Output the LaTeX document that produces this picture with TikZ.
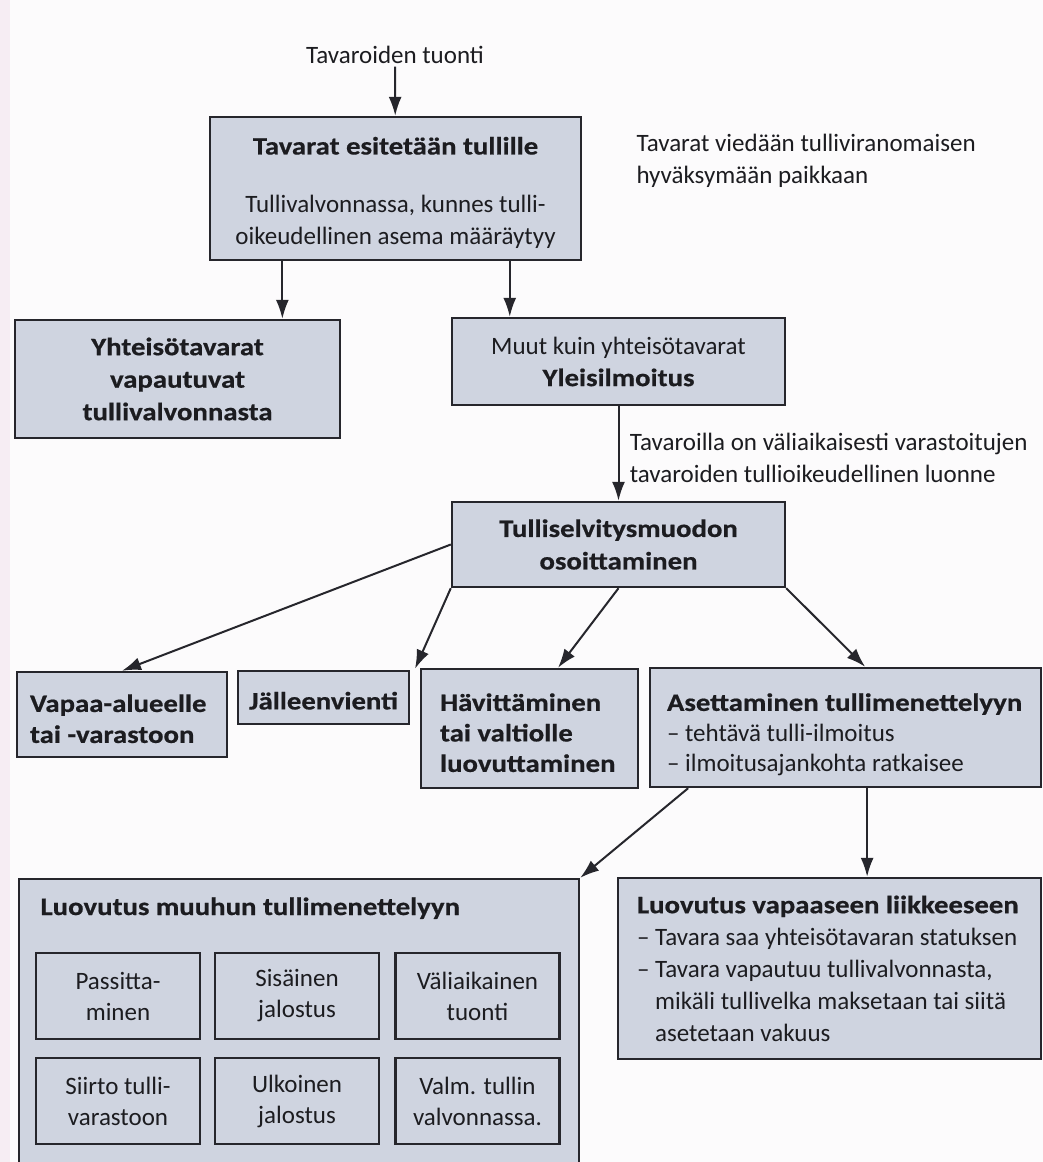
\documentclass[tikz,border=0pt]{standalone}
\usepackage{fontspec}
\setmainfont{Carlito}[BoldFeatures={FakeStretch=1.15,FakeBold=0.6}]
\usepackage{tikz}
\usetikzlibrary{arrows.meta,calc}
\definecolor{reuna}{RGB}{38,38,44}
\definecolor{tausta}{RGB}{207,212,224}
\definecolor{teksti}{RGB}{28,28,32}
\definecolor{paperi}{RGB}{252,251,252}
\definecolor{reunus}{RGB}{246,237,243}
\newcommand{\tb}[1]{\textbf{#1}}
\tikzset{
	laatikko/.style={draw=reuna, fill=tausta, line width=2.4pt, inner sep=0pt},
	vasen/.style={align=flush left, inner xsep=0pt, text width=#1},
	nuoli/.style={->, line width=2pt, draw=reuna},
}

\begin{document}
\begin{tikzpicture}[x=1pt, y=-1pt, >={Latex[length=19pt,width=13pt]}, font=\fontsize{25}{32}\selectfont, text=teksti]
	\useasboundingbox (0,0) rectangle (1043,1162);
	\clip (0,0) rectangle (1043,1162);
	\fill[paperi] (0,0) rectangle (1043,1162);
	\fill[reunus] (0,0) rectangle (10,1162);

	\node[anchor=base] (tuonti) at (395,63) {Tavaroiden tuonti};
	\node[laatikko, minimum width=371, minimum height=143, align=center] (esit) at (395.5,188.5) {\rule{0pt}{26pt}\tb{Tavarat esitetään tullille}\\[26pt]Tullivalvonnassa, kunnes tulli-\\oikeudellinen asema määräytyy};
	\node[anchor=base west, align=left] (paikka) at (633,183) {Tavarat viedään tulliviranomaisen\\hyväksymään paikkaan};
	\node[laatikko, minimum width=325, minimum height=118, align=center, font=\fontsize{25}{32.5}\selectfont\bfseries] (yht) at (177.5,379) {Yhteisötavarat\\vapautuvat\\tullivalvonnasta};
	\node[laatikko, minimum width=333, minimum height=87, align=center] (muut) at (618.5,361.5) {Muut kuin yhteisötavarat\\\tb{Yleisilmoitus}};
	\node[laatikko, minimum width=333, minimum height=85, align=center, font=\fontsize{25}{32.5}\selectfont\bfseries] (tulli) at (618.5,544.5) {Tulliselvitysmuodon\\osoittaminen};

	\node[laatikko, vasen=210, minimum height=85, font=\fontsize{25}{31}\selectfont\bfseries] (vapaa) at (122,714.5) {\leftskip=13pt\rule{0pt}{26pt}Vapaa-alueelle\\tai -varastoon\par};
	\node[laatikko, minimum width=171, minimum height=53, align=center, font=\fontsize{25}{31}\selectfont\bfseries] (jall) at (323.5,697.5) {\rule{0pt}{24pt}Jälleenvienti};
	\node[laatikko, vasen=217, minimum height=119, font=\fontsize{25}{30.5}\selectfont\bfseries] (havi) at (529.5,728.5) {\leftskip=19pt\rule{0pt}{26pt}Hävittäminen\\tai valtiolle\\luovuttaminen\par};
	\node[laatikko, vasen=391, minimum height=119, font=\fontsize{25}{30.5}\selectfont] (aset) at (845.5,727.5) {\leftskip=17pt\rule{0pt}{32pt}\tb{Asettaminen tullimenettelyyn}\\– tehtävä tulli-ilmoitus\\– ilmoitusajankohta ratkaisee\par};

	\node[laatikko, minimum width=560, minimum height=302] (luomuu) at (299,1030) {};
	\node[anchor=base west, font=\fontsize{25}{32}\selectfont\bfseries] (luomuut) at (37,915) {Luovutus muuhun tullimenettelyyn};
	\node[laatikko, minimum width=164, minimum height=86, align=center, font=\fontsize{25}{31}\selectfont] (pass) at (118,996) {Passitta-\\minen};
	\node[laatikko, minimum width=164, minimum height=86, align=center, font=\fontsize{25}{31}\selectfont] (sisa) at (297,996) {Sisäinen\\jalostus};
	\node[laatikko, minimum width=164, minimum height=86, align=center, font=\fontsize{25}{31}\selectfont] (valiai) at (477.5,996) {Väliaikainen\\tuonti};
	\node[laatikko, minimum width=164, minimum height=86, align=center, font=\fontsize{25}{31}\selectfont] (siirto) at (118,1101) {Siirto tulli-\\varastoon};
	\node[laatikko, minimum width=164, minimum height=86, align=center, font=\fontsize{25}{31}\selectfont] (ulko) at (297,1101) {Ulkoinen\\jalostus};
	\node[laatikko, minimum width=164, minimum height=86, align=center, font=\fontsize{25}{31}\selectfont] (valm) at (477.5,1101) {Valm. tullin\\valvonnassa.};

	\node[laatikko, vasen=423, minimum height=181, font=\fontsize{25}{32}\selectfont] (luovap) at (829.5,968.5) {\leftskip=19pt\tb{Luovutus vapaaseen liikkeeseen}\\– Tavara saa yhteisötavaran statuksen\\– Tavara vapautuu tullivalvonnasta,\\\hphantom{– }mikäli tullivelka maksetaan tai siitä\\\hphantom{– }asetetaan vakuus\par};

	\coordinate (e1) at ($(esit.south west)!.197!(esit.south east)$);
	\coordinate (e2) at ($(esit.south west)!.806!(esit.south east)$);
	\coordinate (a1) at ($(aset.south west)!.1!(aset.south east)$);
	\coordinate (a2) at ($(aset.south west)!.555!(aset.south east)$);

	\draw[nuoli] (tuonti) -- (esit);
	\draw[nuoli] (e1) -- (e1 |- yht.north);
	\draw[nuoli] (e2) -- (e2 |- muut.north);
	\draw[nuoli] (muut) -- node[right, align=left, xshift=7, yshift=-4] (luonne) {Tavaroilla on väliaikaisesti varastoitujen\\tavaroiden tullioikeudellinen luonne} (tulli);
	\draw[nuoli] (tulli.west) -- (vapaa.north);
	\draw[nuoli] (tulli.south west) -- ($(jall.north east)!.5!(havi.north west)$);
	\draw[nuoli] (tulli.south) -- ($(havi.north west)!.63!(havi.north east)$);
	\draw[nuoli] (tulli.south east) -- ($(aset.north west)!.55!(aset.north east)$);
	\draw[nuoli] (a1) -- (luomuu.north east);
	\draw[nuoli] (a2) -- (a2 |- luovap.north);
\end{tikzpicture}
\end{document}
